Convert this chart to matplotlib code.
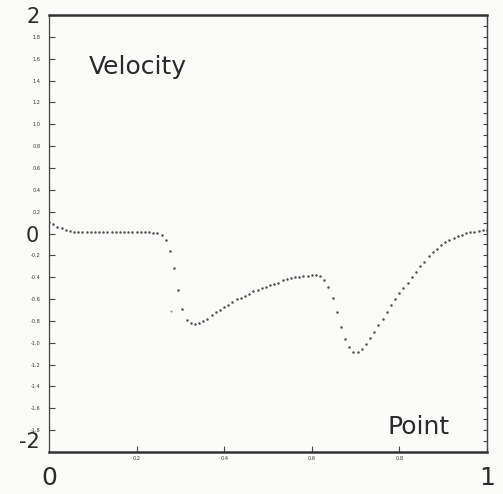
import matplotlib
matplotlib.use("Agg")
import matplotlib.pyplot as plt
import numpy as np

# velocity at each mesh point (left to right)
velocity = [
    0.105, 0.087, 0.064, 0.046, 0.032, 0.023, 0.018, 0.018, 0.017, 0.017,
    0.016, 0.016, 0.015, 0.015, 0.015, 0.014, 0.014, 0.014, 0.013, 0.013,
    0.013, 0.012, 0.012, 0.011, 0.010, 0.008, 0.005, -0.01, -0.06, -0.16,
    -0.32, -0.52, -0.69, -0.79, -0.82, -0.83, -0.82, -0.80, -0.78, -0.75,
    -0.72, -0.70, -0.67, -0.65, -0.63, -0.60, -0.59, -0.57, -0.55, -0.53,
    -0.52, -0.50, -0.49, -0.47, -0.46, -0.45, -0.43, -0.42, -0.41, -0.40,
    -0.40, -0.39, -0.385, -0.38, -0.38, -0.39, -0.43, -0.49, -0.59, -0.72,
    -0.86, -0.97, -1.04, -1.08, -1.08, -1.06, -1.01, -0.96, -0.90, -0.84,
    -0.78, -0.72, -0.65, -0.60, -0.54, -0.50, -0.45, -0.40, -0.35, -0.30,
    -0.26, -0.21, -0.17, -0.14, -0.105, -0.08, -0.06, -0.04, -0.023, -0.01,
    0.005, 0.011, 0.016, 0.023, 0.029, 0.032,
]
# one stray point left of the shock
stray_x = [0.279]
stray_y = [-0.71]

ylabels_major = ["-2", "0", "2"]
xlabels_major = ["0", "1"]

point = np.linspace(0, 1, len(velocity))

fig = plt.figure(figsize=(5.03, 4.94), dpi=100, facecolor="#fbfbfa")
ax = fig.add_axes([0.0974, 0.085, 0.8706, 0.8846])
ax.set_facecolor("#fbfbfa")

ax.plot(point, velocity, linestyle="none", marker="o", markersize=1.8,
        color="#505050", markeredgewidth=0)
ax.plot(stray_x, stray_y, linestyle="none", marker="o", markersize=1.6,
        color="#9a9a9a", markeredgewidth=0)

ax.set_xlim(0, 1)
ax.set_ylim(-2, 2)

# spines: heavy top/bottom, thin sides
for s in ["top", "bottom"]:
    ax.spines[s].set_linewidth(1.8)
    ax.spines[s].set_color("#333333")
for s in ["left", "right"]:
    ax.spines[s].set_linewidth(0.9)
    ax.spines[s].set_color("#444444")

# y axis: labelled majors, small minors with faint labels
ax.set_yticks([-2, 0, 2])
ax.set_yticklabels(ylabels_major, fontsize=15, color="#2a2a2a")
yminor = [v for v in np.round(np.arange(-1.8, 1.81, 0.2), 1) if v != 0]
ax.set_yticks(yminor, minor=True)
ax.set_yticklabels([f"{v:.1f}" for v in yminor], minor=True,
                   fontsize=3.6, color="#333333")
ax.tick_params(axis="y", which="both", direction="in", length=4, width=0.8,
               colors="#444444", pad=8, left=True, right=False)
ax.tick_params(axis="y", which="major", labelcolor="#2a2a2a", pad=7)
ax.tick_params(axis="y", which="minor", labelcolor="#333333", pad=6)
ax.get_yticklabels()[0].set_va("bottom")

# x axis
ax.set_xticks([0, 1])
ax.set_xticklabels(xlabels_major, fontsize=18, color="#2a2a2a")
xminor = [0.2, 0.4, 0.6, 0.8]
ax.set_xticks(xminor, minor=True)
ax.set_xticklabels([f"{v:.1f}" for v in xminor], minor=True,
                   fontsize=3.6, color="#333333")
ax.tick_params(axis="x", which="both", direction="in", length=4, width=0.8,
               colors="#444444", top=False)
ax.tick_params(axis="x", which="major", pad=10, labelcolor="#2a2a2a", length=0)
ax.tick_params(axis="x", which="minor", pad=3, labelcolor="#333333")

# fine ticks along the right edge
sec = ax.secondary_yaxis("right")
sec.set_yticks(np.round(np.arange(-1.9, 2.0, 0.1), 1))
sec.tick_params(direction="in", length=3, width=0.8, colors="#444444",
                labelright=False)
sec.spines["right"].set_linewidth(0.9)
sec.spines["right"].set_color("#444444")

ax.text(0.203, 1.52, "Velocity", fontsize=18, color="#2a2a2a",
        ha="center", va="center")
ax.text(0.843, -1.77, "Point", fontsize=18, color="#2a2a2a",
        ha="center", va="center")

fig.savefig("out.png", dpi=100, facecolor=fig.get_facecolor())
